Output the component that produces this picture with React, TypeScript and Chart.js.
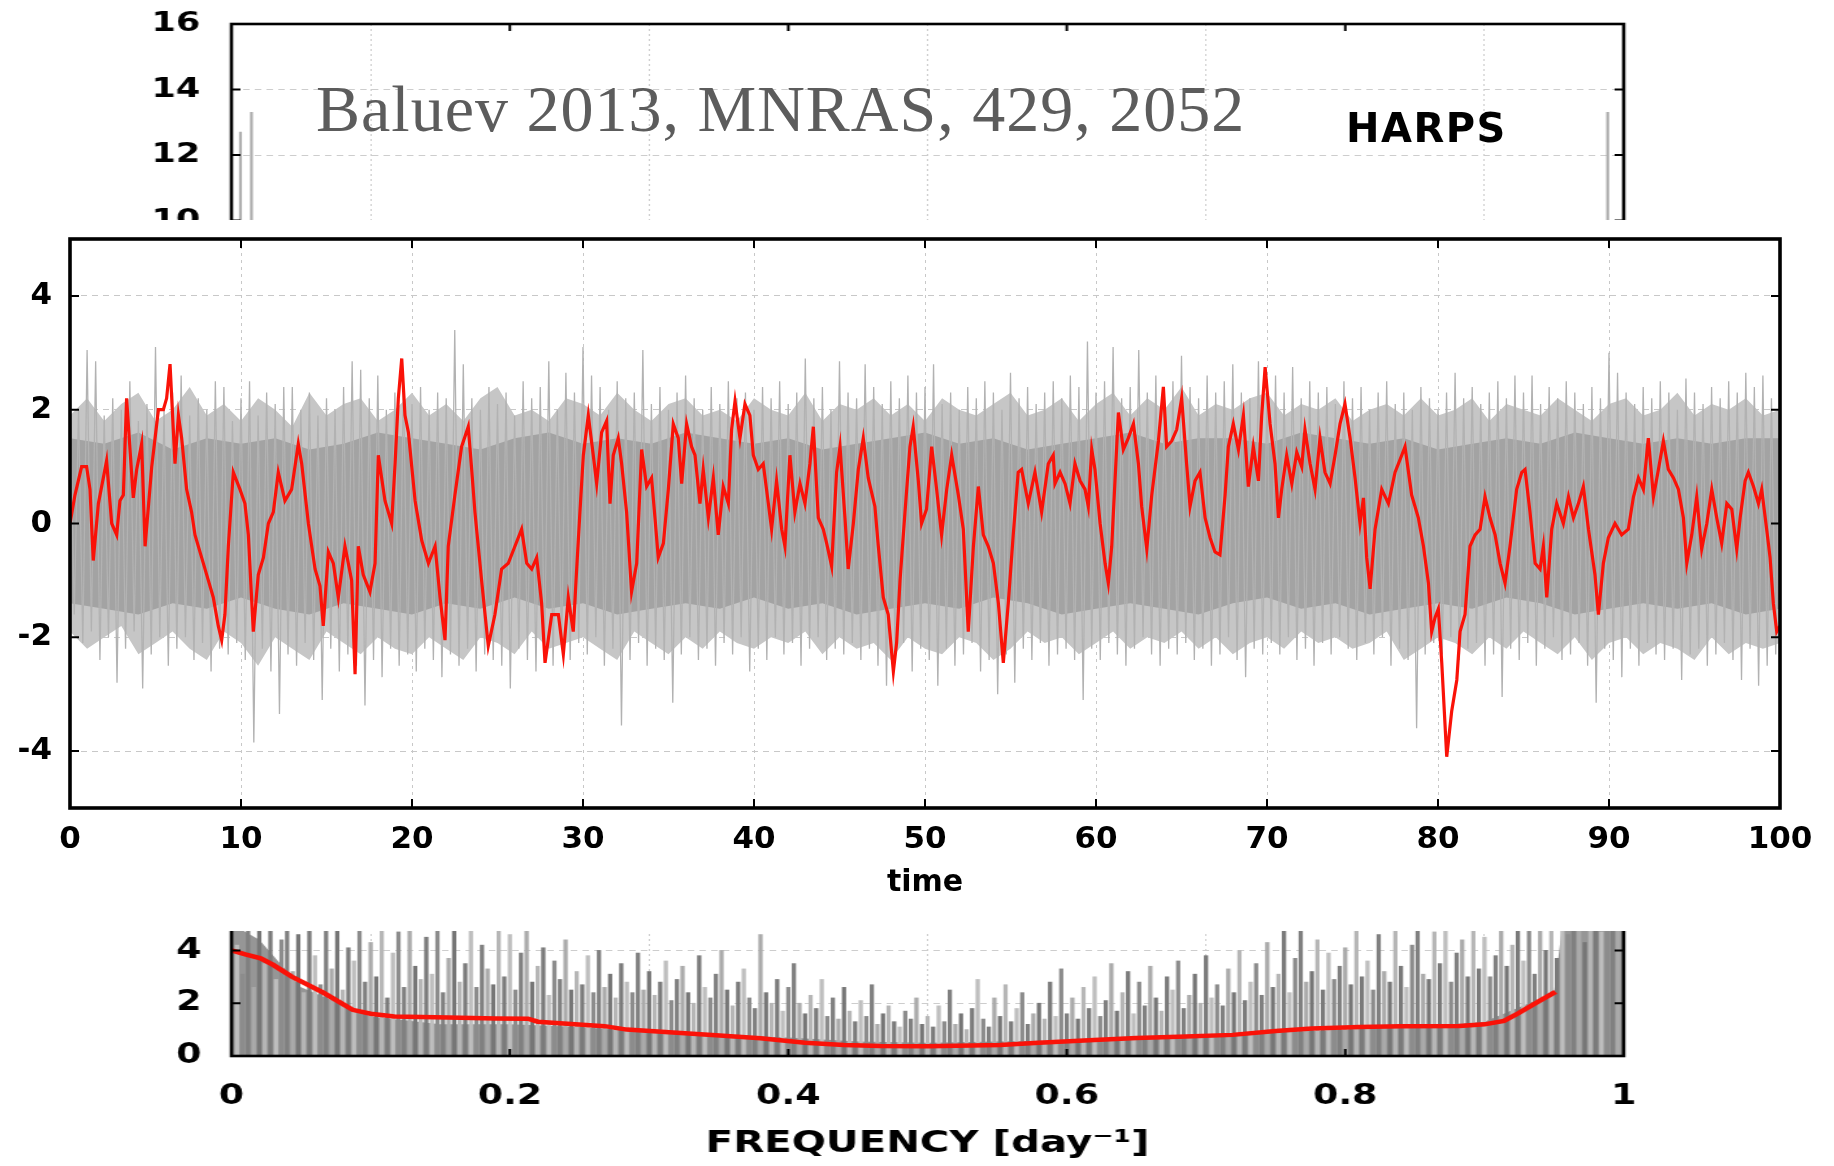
import { useEffect, useRef } from 'react';
import { Chart, registerables } from 'chart.js';

Chart.register(...registerables);

const SANS = '"DejaVu Sans", "Liberation Sans", sans-serif';
const RED = 'rgb(250,18,8)';

// ---------- top panel (partly hidden) ----------
const topYTicks = [10, 12, 14, 16];
const topXTicks = [0, 0.2, 0.4, 0.6, 0.8, 1];
const topSpikeFreq = [0.0065, 0.0144, 0.9885];
const topSpikePower = [12.7, 13.3, 13.3];

// ---------- middle panel: time series ----------
const midXTicks = [0, 10, 20, 30, 40, 50, 60, 70, 80, 90, 100];
const midYTicks = [-4, -2, 0, 2, 4];

// smoothed (red) trace, [time, value]
const redTrace: [number, number][] = [
  [0, 0], [0.29, 0.5], [0.68, 1.0], [0.97, 1.0], [1.17, 0.6], [1.36, -0.65], [1.66, 0.35], [2.14, 1.1], [2.44, 0.0], [2.73, -0.2],
  [2.92, 0.4], [3.12, 0.5], [3.31, 2.2], [3.7, 0.45], [3.9, 0.95], [4.19, 1.4], [4.39, -0.4], [4.78, 1.0], [5.17, 2.0], [5.46, 2.0],
  [5.65, 2.2], [5.85, 2.8], [6.14, 1.05], [6.34, 1.9], [6.53, 1.5], [6.82, 0.6], [7.11, 0.2], [7.31, -0.2], [7.7, -0.6], [8.09, -1.0],
  [8.38, -1.3], [8.67, -1.8], [8.87, -2.05], [9.06, -1.6], [9.26, -0.4], [9.55, 0.9], [9.94, 0.6], [10.23, 0.35], [10.43, -0.2], [10.72, -1.9],
  [11.01, -0.9], [11.31, -0.6], [11.6, 0.0], [11.89, 0.2], [12.18, 0.9], [12.57, 0.4], [12.96, 0.6], [13.35, 1.4], [13.55, 1.05], [13.94, 0.0],
  [14.33, -0.8], [14.62, -1.1], [14.81, -1.8], [15.11, -0.5], [15.4, -0.7], [15.69, -1.3], [16.08, -0.4], [16.47, -1.0], [16.67, -2.65], [16.86, -0.4],
  [17.15, -0.9], [17.54, -1.2], [17.84, -0.7], [18.03, 1.2], [18.42, 0.4], [18.81, 0.0], [19.01, 1.05], [19.2, 2.2], [19.4, 2.9], [19.59, 1.9],
  [19.79, 1.6], [20.18, 0.4], [20.57, -0.3], [20.96, -0.7], [21.35, -0.4], [21.64, -1.3], [21.93, -2.05], [22.12, -0.4], [22.51, 0.5], [22.9, 1.35],
  [23.29, 1.7], [23.49, 0.95], [23.68, 0.2], [24.07, -1.0], [24.46, -2.15], [24.85, -1.6], [25.24, -0.8], [25.63, -0.7], [26.02, -0.4], [26.41, -0.1],
  [26.71, -0.7], [27.0, -0.8], [27.29, -0.6], [27.58, -1.4], [27.78, -2.45], [28.17, -1.6], [28.56, -1.6], [28.85, -2.3], [29.14, -1.3], [29.43, -1.9],
  [29.63, -0.8], [29.82, 0.2], [30.02, 1.2], [30.31, 1.9], [30.6, 1.2], [30.8, 0.7], [31.09, 1.6], [31.38, 1.8], [31.58, 0.35], [31.77, 1.2],
  [32.06, 1.5], [32.26, 1.05], [32.55, 0.2], [32.84, -1.2], [33.14, -0.7], [33.43, 1.3], [33.72, 0.65], [34.01, 0.8], [34.21, 0.1], [34.4, -0.6],
  [34.7, -0.35], [34.99, 0.6], [35.28, 1.75], [35.57, 1.5], [35.77, 0.7], [36.06, 1.75], [36.35, 1.35], [36.55, 1.2], [36.84, 0.35], [37.03, 0.95],
  [37.33, 0.1], [37.62, 0.8], [37.91, -0.2], [38.2, 0.65], [38.5, 0.35], [38.69, 1.65], [38.89, 2.15], [39.18, 1.5], [39.47, 2.1], [39.76, 1.9],
  [39.96, 1.2], [40.25, 0.95], [40.54, 1.05], [40.84, 0.35], [41.03, -0.1], [41.32, 0.75], [41.62, -0.1], [41.81, -0.4], [42.1, 1.2], [42.39, 0.2],
  [42.69, 0.7], [42.98, 0.35], [43.27, 1.05], [43.47, 1.7], [43.76, 0.1], [44.05, -0.1], [44.25, -0.35], [44.54, -0.75], [44.83, 0.9], [45.03, 1.35],
  [45.32, 0.1], [45.51, -0.8], [45.81, 0.0], [46.1, 0.95], [46.39, 1.5], [46.68, 0.8], [47.07, 0.3], [47.27, -0.4], [47.56, -1.3], [47.85, -1.6],
  [48.15, -2.6], [48.34, -2.1], [48.54, -1.0], [48.83, 0.2], [49.12, 1.35], [49.31, 1.7], [49.61, 0.75], [49.8, 0.0], [50.09, 0.25], [50.39, 1.35],
  [50.68, 0.6], [50.97, -0.2], [51.27, 0.6], [51.56, 1.2], [51.95, 0.5], [52.24, -0.1], [52.53, -1.9], [52.83, -0.4], [53.12, 0.65], [53.41, -0.2],
  [53.7, -0.4], [54.0, -0.7], [54.29, -1.4], [54.58, -2.45], [54.87, -1.4], [55.16, -0.2], [55.45, 0.9], [55.65, 0.95], [56.04, 0.35], [56.43, 0.9],
  [56.82, 0.2], [57.21, 1.05], [57.5, 1.2], [57.6, 0.7], [57.9, 0.9], [58.19, 0.7], [58.48, 0.35], [58.77, 1.05], [59.07, 0.75], [59.36, 0.6],
  [59.55, 0.3], [59.75, 1.3], [59.94, 0.95], [60.24, 0.0], [60.53, -0.7], [60.72, -1.05], [60.92, -0.4], [61.11, 0.75], [61.31, 1.95], [61.6, 1.3],
  [61.89, 1.5], [62.19, 1.75], [62.48, 1.05], [62.67, 0.3], [62.97, -0.45], [63.26, 0.5], [63.65, 1.45], [63.94, 2.4], [64.13, 1.35], [64.43, 1.45],
  [64.72, 1.65], [65.01, 2.2], [65.3, 1.05], [65.5, 0.3], [65.79, 0.75], [66.08, 0.9], [66.38, 0.1], [66.67, -0.25], [66.96, -0.5], [67.25, -0.55],
  [67.55, 0.5], [67.74, 1.35], [68.03, 1.75], [68.33, 1.3], [68.62, 1.9], [68.91, 0.65], [69.2, 1.35], [69.5, 0.75], [69.69, 1.9], [69.89, 2.75],
  [70.18, 1.75], [70.47, 1.05], [70.67, 0.1], [70.86, 0.6], [71.15, 1.2], [71.45, 0.7], [71.74, 1.25], [72.03, 1.0], [72.22, 1.65], [72.52, 1.05],
  [72.81, 0.6], [73.1, 1.5], [73.39, 0.9], [73.69, 0.7], [73.98, 1.2], [74.27, 1.75], [74.56, 2.1], [74.86, 1.5], [75.15, 0.8], [75.44, 0.0],
  [75.64, 0.45], [75.83, -0.6], [76.03, -1.15], [76.32, -0.1], [76.71, 0.6], [77.1, 0.35], [77.49, 0.9], [77.88, 1.2], [78.07, 1.35], [78.46, 0.5],
  [78.85, 0.1], [79.15, -0.4], [79.44, -1.05], [79.63, -1.9], [79.83, -1.65], [80.02, -1.5], [80.22, -2.45], [80.51, -4.1], [80.8, -3.3], [81.1, -2.75],
  [81.29, -1.9], [81.58, -1.6], [81.87, -0.4], [82.17, -0.2], [82.46, -0.1], [82.75, 0.47], [83.04, 0.1], [83.34, -0.2], [83.63, -0.7], [83.92, -1.05],
  [84.21, -0.4], [84.6, 0.6], [84.9, 0.9], [85.09, 0.95], [85.38, 0.2], [85.68, -0.7], [85.97, -0.8], [86.16, -0.4], [86.36, -1.3], [86.65, -0.1],
  [86.94, 0.35], [87.33, 0.0], [87.63, 0.47], [87.92, 0.1], [88.21, 0.35], [88.5, 0.65], [88.8, -0.1], [89.18, -0.9], [89.38, -1.6], [89.67, -0.7],
  [89.96, -0.25], [90.35, 0.0], [90.74, -0.2], [91.13, -0.1], [91.43, 0.47], [91.72, 0.8], [92.01, 0.6], [92.3, 1.5], [92.6, 0.47], [92.89, 0.95],
  [93.18, 1.45], [93.47, 0.95], [93.77, 0.8], [94.06, 0.6], [94.35, 0.1], [94.55, -0.7], [94.84, -0.2], [95.13, 0.47], [95.42, -0.45], [95.72, 0.0],
  [96.01, 0.6], [96.3, 0.1], [96.59, -0.35], [96.89, 0.35], [97.18, 0.25], [97.47, -0.45], [97.67, 0.1], [97.96, 0.75], [98.15, 0.9], [98.45, 0.65],
  [98.74, 0.35], [98.93, 0.6], [99.22, -0.1], [99.42, -0.6], [99.61, -1.4], [99.81, -1.9], [100, -1.8],
];

// raw (grey) series: spike tops at t = 0, 0.5, ..., 100
const grayTops = [
  2.3, 2.0, 3.05, 2.85, 1.9, 2.2, 2.0, 2.5, 1.8, 2.1,
  3.1, 2.0, 2.3, 2.6, 1.9, 2.2, 2.0, 2.5, 2.4, 1.8,
  2.2, 2.5, 1.9, 2.3, 2.1, 2.4, 2.4, 2.0, 2.3, 1.9,
  2.2, 2.0, 2.4, 2.85, 2.7, 2.2, 2.6, 2.0, 2.3, 2.5,
  2.1, 2.4, 2.0, 2.3, 2.2, 3.4, 2.8, 2.2, 2.0, 2.4,
  2.1, 2.3, 1.9, 2.5, 2.2, 2.4, 2.85, 2.0, 2.65, 2.3,
  3.1, 2.6, 2.4, 2.0, 2.5, 2.2, 2.3, 3.05, 2.1, 2.4,
  2.0, 2.3, 2.6, 2.2, 2.0, 2.4, 2.1, 2.5, 2.2, 2.3,
  2.0, 2.4, 2.2, 2.5, 2.1, 2.3, 2.9, 2.2, 2.4, 2.0,
  2.85, 2.3, 2.2, 2.8, 2.4, 2.1, 2.5, 2.2, 2.6, 2.3,
  2.4, 2.8, 2.1, 2.3, 2.0, 2.4, 2.2, 2.5, 2.3, 2.0,
  2.65, 2.2, 2.4, 2.1, 2.3, 2.5, 2.2, 2.6, 2.4, 3.2,
  2.3, 2.5, 3.1, 2.2, 2.4, 3.05, 2.3, 2.6, 2.2, 2.5,
  2.95, 2.4, 2.2, 2.6, 2.3, 2.5, 2.8, 2.3, 2.2, 2.85,
  2.4, 2.6, 2.3, 2.75, 2.2, 2.5, 2.3, 2.4, 2.1, 2.5,
  2.2, 2.4, 2.0, 2.3, 2.5, 2.1, 2.3, 2.0, 2.4, 2.2,
  2.0, 2.3, 2.65, 2.2, 2.4, 2.1, 2.3, 2.5, 2.2, 2.6,
  2.3, 2.6, 2.1, 2.4, 2.2, 2.5, 2.3, 2.1, 2.4, 2.2,
  3.0, 2.65, 2.3, 2.1, 2.4, 2.2, 2.5, 2.3, 2.0, 2.55,
  2.3, 2.1, 2.4, 2.2, 2.5, 2.3, 2.65, 2.4, 2.6, 2.2,
  2.0,
];
// spike bottoms at t = 0.25, 0.75, ..., 99.75
const grayBottoms = [
  -1.6, -2.1, -1.9, -2.4, -2.0, -2.8, -2.2, -1.9, -2.9, -2.3,
  -2.0, -2.5, -2.2, -2.0, -2.4, -2.1, -2.6, -2.2, -2.3, -2.1,
  -2.4, -3.85, -2.2, -2.6, -3.35, -2.3, -2.5, -2.1, -2.4, -3.1,
  -2.2, -2.6, -2.3, -2.5, -3.2, -2.4, -2.7, -2.2, -2.5, -2.3,
  -2.6, -2.2, -2.4, -2.7, -2.3, -2.5, -2.2, -2.6, -2.3, -2.4,
  -2.5, -2.9, -2.2, -2.4, -2.6, -2.3, -2.5, -2.2, -2.4, -2.1,
  -2.3, -2.0, -2.5, -2.2, -3.55, -2.4, -2.1, -2.5, -2.2, -2.4,
  -3.15, -2.3, -2.0, -2.4, -2.2, -2.5, -2.1, -2.3, -2.0, -2.6,
  -2.2, -2.4, -2.0, -2.3, -2.1, -2.5, -2.2, -2.0, -2.4, -2.2,
  -2.3, -2.1, -2.4, -2.2, -2.5, -2.85, -2.3, -2.1, -2.6, -2.2,
  -2.4, -2.85, -2.2, -2.5, -2.3, -2.1, -2.6, -2.4, -3.0, -2.3,
  -2.8, -2.2, -2.4, -2.1, -2.5, -2.3, -2.2, -2.4, -3.1, -2.2,
  -2.4, -2.1, -2.3, -2.5, -2.2, -2.0, -2.3, -2.5, -2.2, -2.3,
  -2.1, -2.4, -2.2, -2.5, -2.3, -2.0, -2.4, -2.7, -2.2, -2.3,
  -2.1, -2.3, -2.0, -2.4, -2.2, -2.5, -2.1, -2.3, -2.0, -2.2,
  -2.4, -2.1, -2.3, -2.0, -2.5, -2.2, -2.4, -3.6, -2.3, -2.1,
  -2.3, -2.0, -2.4, -2.2, -2.1, -2.5, -2.3, -3.05, -2.2, -2.4,
  -2.1, -2.5, -2.2, -2.0, -2.4, -2.3, -2.1, -2.5, -3.15, -2.2,
  -2.4, -2.7, -2.2, -2.5, -2.1, -2.3, -2.4, -2.2, -2.75, -2.3,
  -2.2, -2.5, -2.3, -2.1, -2.4, -2.75, -2.2, -2.85, -2.5, -2.3,
];
// dense core of the grey band, at t = 0, 2, ..., 100
const grayCoreHigh = [
  1.5, 1.4, 1.6, 1.3, 1.5, 1.4, 1.5, 1.3, 1.4, 1.6,
  1.5, 1.4, 1.3, 1.5, 1.6, 1.4, 1.5, 1.4, 1.6, 1.5,
  1.4, 1.5, 1.3, 1.4, 1.5, 1.6, 1.4, 1.5, 1.3, 1.4,
  1.5, 1.6, 1.4, 1.5, 1.5, 1.4, 1.6, 1.5, 1.4, 1.5,
  1.3, 1.4, 1.5, 1.4, 1.6, 1.5, 1.4, 1.5, 1.4, 1.5,
  1.5,
];
const grayCoreLow = [
  -1.4, -1.5, -1.6, -1.4, -1.5, -1.3, -1.5, -1.6, -1.4, -1.5,
  -1.6, -1.4, -1.5, -1.3, -1.5, -1.4, -1.6, -1.5, -1.4, -1.5,
  -1.3, -1.5, -1.4, -1.6, -1.5, -1.4, -1.5, -1.3, -1.4, -1.6,
  -1.5, -1.4, -1.5, -1.6, -1.4, -1.3, -1.5, -1.4, -1.6, -1.5,
  -1.4, -1.5, -1.3, -1.4, -1.6, -1.5, -1.4, -1.5, -1.4, -1.6,
  -1.5,
];
// lighter fringe of the grey band, at t = 0, 1, ..., 100
const grayHaloHigh = [
  1.9, 2.2, 1.8, 2.1, 2.3, 1.8, 2.0, 2.4, 1.9, 2.1,
  1.8, 2.2, 2.0, 1.7, 2.3, 1.9, 2.1, 2.2, 1.8, 2.0,
  2.3, 1.9, 2.1, 1.8, 2.2, 2.4, 1.9, 2.0, 1.8, 2.2,
  2.1, 1.9, 2.3, 2.0, 1.8, 2.1, 2.2, 1.9, 2.0, 1.8,
  2.2, 2.0, 1.9, 2.3, 1.8, 2.1, 2.0, 2.2, 1.9, 2.1,
  1.8, 2.2, 2.0, 1.9, 2.1, 2.3, 1.9, 2.0, 2.2, 1.8,
  2.1, 2.3, 1.9, 2.2, 2.0, 2.4, 1.9, 2.1, 2.0, 2.2,
  2.3, 1.9, 2.1, 2.0, 2.2, 1.8, 2.0, 2.1, 1.9, 2.2,
  1.9, 2.0, 2.2, 1.8, 2.1, 2.0, 1.9, 2.2, 2.0, 1.8,
  2.1, 2.2, 1.9, 2.0, 2.3, 1.9, 2.1, 2.0, 2.2, 1.9,
  2.0,
];
const grayHaloLow = [
  -1.9, -2.2, -2.0, -1.8, -2.3, -2.1, -1.9, -2.2, -2.4, -1.9,
  -2.1, -2.5, -2.0, -2.2, -2.4, -1.9, -2.1, -2.3, -2.0, -2.2,
  -2.3, -2.0, -2.2, -2.4, -2.0, -2.1, -2.3, -1.9, -2.2, -2.1,
  -2.0, -2.2, -2.4, -1.9, -2.1, -2.3, -2.0, -2.2, -1.9, -2.1,
  -2.2, -2.0, -2.1, -1.9, -2.3, -2.0, -2.2, -2.1, -2.4, -2.0,
  -2.2, -2.3, -2.0, -2.1, -2.4, -2.2, -1.9, -2.1, -2.0, -2.3,
  -2.1, -1.9, -2.2, -2.0, -2.1, -1.9, -2.2, -2.0, -2.3, -2.1,
  -2.0, -2.2, -1.9, -2.1, -2.0, -2.2, -2.1, -1.9, -2.4, -2.2,
  -2.0, -2.1, -2.3, -2.0, -2.2, -1.9, -2.1, -2.3, -2.0, -2.4,
  -2.1, -2.0, -2.3, -2.1, -2.2, -2.4, -2.0, -2.3, -2.1, -2.2,
  -2.1,
];

// ---------- bottom panel: periodogram ----------
const freqTicks = [0, 0.2, 0.4, 0.6, 0.8, 1];
const powerTicks = [0, 2, 4];
// spike heights at f = 0, 0.004, ..., 1.0
const periodogram = [
  5.0, 4.2, 3.1, 5.0, 2.6, 4.8, 3.5, 5.0, 2.9, 4.4, 5.0, 3.2, 4.6, 2.4, 5.0, 3.8, 2.7, 4.9, 3.3, 5.0, 2.5, 4.1, 3.6, 5.0, 2.8,
  4.3, 3.0, 5.0, 2.2, 3.9, 4.7, 2.6, 5.0, 3.4, 2.9, 4.5, 3.1, 5.0, 2.4, 3.7, 4.9, 2.8, 3.5, 5.0, 2.6, 4.2, 3.3, 2.7, 5.0, 3.0,
  4.6, 2.5, 3.9, 5.0, 2.8, 3.4, 4.1, 2.3, 3.6, 2.9, 4.4, 2.5, 3.2, 2.7, 3.8, 2.4, 4.0, 2.6, 3.1, 2.2, 3.5, 2.8, 2.4, 3.9, 2.5,
  3.2, 2.3, 2.8, 3.6, 2.1, 2.9, 3.4, 2.4, 2.0, 3.8, 2.6, 2.2, 3.1, 4.0, 2.5, 1.9, 2.8, 3.3, 2.2, 1.8, 4.6, 2.4, 2.0, 2.9, 1.7,
  2.6, 3.5, 2.0, 1.6, 2.3, 1.8, 2.9, 1.5, 2.2, 1.4, 2.6, 1.7, 1.3, 2.1, 1.5, 2.7, 1.2, 1.6, 1.9, 1.3, 1.1, 1.7, 1.4, 2.2, 1.2,
  1.5, 1.1, 1.9, 1.3, 2.5, 1.2, 1.6, 1.0, 1.8, 2.9, 1.4, 1.1, 2.2, 1.5, 2.7, 1.3, 1.8, 2.4, 1.2, 1.6, 2.0, 1.4, 2.8, 1.5, 3.3,
  1.6, 2.2, 1.4, 2.6, 1.8, 3.0, 1.5, 2.1, 3.5, 1.7, 2.4, 3.2, 1.6, 2.8, 1.9, 3.4, 2.2, 1.7, 3.0, 2.5, 3.6, 1.8, 2.3, 3.1, 2.0,
  3.8, 2.2, 2.7, 1.9, 3.3, 2.4, 4.0, 2.1, 2.8, 3.5, 2.3, 4.3, 2.6, 3.1, 5.0, 2.4, 3.7, 5.0, 2.8, 3.2, 4.4, 2.5, 3.9, 2.9, 3.4,
  4.1, 2.7, 5.0, 3.0, 3.6, 2.5, 4.6, 3.2, 2.8, 5.0, 3.4, 2.6, 4.2, 5.0, 3.1, 2.9, 4.7, 3.5, 5.0, 2.8, 3.9, 4.4, 3.0, 5.0, 3.3,
  4.5, 3.0, 3.8, 5.0, 3.4, 4.2, 5.0, 3.6, 4.8, 3.1, 5.0, 4.0, 5.0, 3.7, 5.0, 4.6, 5.0, 5.0, 4.3, 5.0, 5.0, 4.7, 5.0, 5.0, 4.9,
  5.0,
];
// solid lower part of the periodogram, [freq, power]
const periodogramCore: [number, number][] = [
  [0, 5.0], [0.02, 4.4], [0.05, 2.6], [0.1, 1.5], [0.15, 1.2], [0.2, 1.2], [0.25, 1.1], [0.3, 0.9], [0.35, 0.8], [0.4, 0.7],
  [0.45, 0.55], [0.5, 0.5], [0.55, 0.55], [0.6, 0.6], [0.65, 0.7], [0.7, 0.8], [0.75, 0.9], [0.8, 1.0], [0.85, 1.1], [0.9, 1.3],
  [0.95, 2.4], [0.956, 5.0], [1.0, 5.0],
];
// smoothed (red) periodogram, [freq, power]
const smoothPower: [number, number][] = [
  [0, 4.0], [0.01, 3.85], [0.021, 3.7], [0.03, 3.45], [0.0435, 3.0], [0.066, 2.4], [0.087, 1.75], [0.1, 1.6], [0.117, 1.5], [0.156, 1.46],
  [0.19, 1.42], [0.213, 1.41], [0.22, 1.3], [0.268, 1.13], [0.284, 1.0], [0.32, 0.88], [0.348, 0.79], [0.38, 0.67], [0.412, 0.5], [0.44, 0.42],
  [0.466, 0.38], [0.5, 0.37], [0.552, 0.42], [0.58, 0.5], [0.616, 0.6], [0.65, 0.68], [0.68, 0.73], [0.719, 0.8], [0.75, 0.95], [0.776, 1.04],
  [0.81, 1.1], [0.84, 1.13], [0.882, 1.14], [0.9, 1.2], [0.914, 1.33], [0.924, 1.61], [0.94, 2.1], [0.951, 2.43],
];

// ---------- helpers ----------
function framePlugin(xTicks: number[], yTicks: number[], lw: number, tl: number) {
  return {
    id: 'frame',
    afterDatasetsDraw(chart: any) {
      const { ctx, chartArea: a, scales } = chart;
      ctx.save();
      ctx.strokeStyle = '#000';
      ctx.setLineDash([]);
      ctx.lineWidth = 2;
      ctx.beginPath();
      for (const v of xTicks) {
        const x = scales.x.getPixelForValue(v);
        if (x < a.left + 3 || x > a.right - 3) continue;
        ctx.moveTo(x, a.bottom);
        ctx.lineTo(x, a.bottom - tl);
        ctx.moveTo(x, a.top);
        ctx.lineTo(x, a.top + tl);
      }
      for (const v of yTicks) {
        const y = scales.y.getPixelForValue(v);
        if (y < a.top + 3 || y > a.bottom - 3) continue;
        ctx.moveTo(a.left, y);
        ctx.lineTo(a.left + tl, y);
        ctx.moveTo(a.right, y);
        ctx.lineTo(a.right - tl, y);
      }
      ctx.stroke();
      ctx.lineWidth = lw;
      ctx.strokeRect(a.left, a.top, a.right - a.left, a.bottom - a.top);
      ctx.restore();
    },
  };
}

const setTicks = (arr: number[]) => (s: any) => {
  s.ticks = arr.map((v) => ({ value: v }));
};
// fixed y-axis width, and no extra label margin above/below the plot area
const fixY = (w: number) => (s: any) => {
  s.width = w;
  s.paddingTop = 0;
  s.paddingBottom = 0;
};
const fixX = (h: number) => (s: any) => {
  s.height = h;
};

function ChartCanvas({ make, width, height }: { make: () => any; width: number; height: number }) {
  const ref = useRef<HTMLCanvasElement | null>(null);
  useEffect(() => {
    const chart = new Chart(ref.current as HTMLCanvasElement, make());
    return () => chart.destroy();
  }, []);
  return <canvas ref={ref} width={width} height={height} style={{ display: 'block', width, height }} />;
}

const baseOptions = {
  responsive: false,
  animation: false,
  devicePixelRatio: 1,
  events: [],
  plugins: { legend: { display: false }, tooltip: { enabled: false } },
};

const clear = 'rgba(0,0,0,0)';

// ---------- chart configs ----------
function makeTop() {
  return {
    type: 'bar',
    data: {
      datasets: [
        {
          data: topSpikeFreq.map((f, i) => ({ x: f, y: topSpikePower[i] })),
          backgroundColor: 'rgb(175,175,175)',
          barThickness: 1.6,
          borderWidth: 0,
        },
      ],
    },
    options: {
      ...baseOptions,
      layout: { padding: { top: 24, right: 162, left: 0, bottom: 0 } },
      scales: {
        x: {
          type: 'linear',
          min: 0,
          max: 1,
          offset: false,
          afterBuildTicks: setTicks(topXTicks),
          afterFit: fixX(20),
          ticks: { display: false },
          grid: { color: 'rgb(205,205,205)', lineWidth: 1, drawTicks: false },
          border: { display: false, dash: [2, 3] },
        },
        y: {
          min: 8,
          max: 16,
          afterBuildTicks: setTicks(topYTicks),
          afterFit: fixY(178),
          ticks: { color: '#000', font: { family: SANS, size: 27, weight: 'bold' }, padding: 24, callback: (v: any) => String(v) },
          grid: { color: 'rgb(205,205,205)', lineWidth: 1, drawTicks: false },
          border: { display: false, dash: [5, 4] },
        },
      },
    },
    plugins: [framePlugin(topXTicks, topYTicks, 2.6, 7)],
  };
}

function makeMiddle() {
  const zig: { x: number; y: number }[] = [];
  grayTops.forEach((v, i) => {
    zig.push({ x: i * 0.5, y: v });
    if (i < grayBottoms.length) zig.push({ x: i * 0.5 + 0.25, y: grayBottoms[i] });
  });
  return {
    type: 'line',
    data: {
      datasets: [
        { data: redTrace.map(([x, y]) => ({ x, y })), borderColor: RED, borderWidth: 3.2, pointRadius: 0, tension: 0 },
        { data: zig, borderColor: 'rgb(178,178,178)', borderWidth: 1.3, pointRadius: 0, tension: 0 },
        {
          data: grayCoreHigh.map((y, i) => ({ x: i * 2, y })),
          borderColor: clear,
          borderWidth: 1,
          pointRadius: 0,
          fill: '+1',
          backgroundColor: 'rgb(163,163,163)',
        },
        { data: grayCoreLow.map((y, i) => ({ x: i * 2, y })), borderColor: clear, borderWidth: 1, pointRadius: 0 },
        {
          data: grayHaloHigh.map((y, i) => ({ x: i, y })),
          borderColor: clear,
          borderWidth: 1,
          pointRadius: 0,
          fill: '+1',
          backgroundColor: 'rgb(198,198,198)',
        },
        { data: grayHaloLow.map((y, i) => ({ x: i, y })), borderColor: clear, borderWidth: 1, pointRadius: 0 },
      ],
    },
    options: {
      ...baseOptions,
      layout: { padding: { top: 19, right: 54, left: 0, bottom: 0 } },
      scales: {
        x: {
          type: 'linear',
          min: 0,
          max: 100,
          afterBuildTicks: setTicks(midXTicks),
          afterFit: fixX(123),
          ticks: {
            color: '#000',
            font: { family: SANS, size: 31, weight: 'bold' },
            padding: 13,
            maxRotation: 0,
            autoSkip: false,
            callback: (v: any) => String(v),
          },
          grid: { color: 'rgb(200,200,200)', lineWidth: 1, drawTicks: false },
          border: { display: false, dash: [3, 4] },
          title: {
            display: true,
            text: 'time',
            color: '#000',
            font: { family: SANS, size: 30, weight: 'bold' },
            padding: { top: 0, bottom: 30 },
          },
        },
        y: {
          min: -5,
          max: 5,
          afterBuildTicks: setTicks(midYTicks),
          afterFit: fixY(70),
          ticks: { color: '#000', font: { family: SANS, size: 31, weight: 'bold' }, padding: 18, callback: (v: any) => String(v) },
          grid: { color: 'rgb(200,200,200)', lineWidth: 1, drawTicks: false },
          border: { display: false, dash: [6, 5] },
        },
      },
    },
    plugins: [framePlugin(midXTicks, midYTicks, 3.6, 9)],
  };
}

const barTones = [
  'rgb(122,122,122)', 'rgb(190,190,190)', 'rgb(140,140,140)', 'rgb(128,128,128)',
  'rgb(170,170,170)', 'rgb(118,118,118)', 'rgb(182,182,182)',
];

function makeBottom() {
  return {
    type: 'line',
    data: {
      datasets: [
        { data: smoothPower.map(([x, y]) => ({ x, y })), borderColor: RED, borderWidth: 4.5, pointRadius: 0, tension: 0 },
        {
          type: 'bar',
          data: periodogram.map((y, i) => ({ x: i * 0.004, y })),
          barThickness: 2.6,
          borderWidth: 0,
          backgroundColor: (c: any) => barTones[c.dataIndex % barTones.length],
        },
        {
          data: periodogramCore.map(([x, y]) => ({ x, y })),
          borderColor: clear,
          borderWidth: 1,
          pointRadius: 0,
          fill: 'origin',
          backgroundColor: 'rgb(150,150,150)',
        },
      ],
    },
    options: {
      ...baseOptions,
      layout: { padding: { top: 24, right: 162, left: 0, bottom: 0 } },
      scales: {
        x: {
          type: 'linear',
          min: 0,
          max: 1,
          offset: false,
          afterBuildTicks: setTicks(freqTicks),
          afterFit: fixX(110),
          ticks: {
            color: '#000',
            font: { family: SANS, size: 28, weight: 'bold' },
            padding: 24,
            maxRotation: 0,
            autoSkip: false,
            callback: (v: any) => String(v),
          },
          grid: { color: 'rgb(205,205,205)', lineWidth: 1, drawTicks: false },
          border: { display: false, dash: [2, 3] },
          title: {
            display: true,
            text: 'FREQUENCY [day\u207B\u00B9]',
            color: '#000',
            font: { family: SANS, size: 31, weight: 'bold' },
            padding: { top: 0, bottom: 3 },
          },
        },
        y: {
          min: 0,
          max: 5,
          afterBuildTicks: setTicks(powerTicks),
          afterFit: fixY(178),
          ticks: { color: '#000', font: { family: SANS, size: 28, weight: 'bold' }, padding: 23, callback: (v: any) => String(v) },
          grid: { color: 'rgb(205,205,205)', lineWidth: 1, drawTicks: false },
          border: { display: false, dash: [5, 4] },
        },
      },
    },
    plugins: [framePlugin(freqTicks, powerTicks, 2.6, 7)],
  };
}

export default function App() {
  return (
    <div style={{ position: 'absolute', left: 0, top: 0, width: 1834, height: 1166, background: '#fff', overflow: 'hidden' }}>
      <div style={{ position: 'absolute', left: 0, top: 0, width: 1411, height: 306, transform: 'scaleX(1.3)', transformOrigin: '0 0', zIndex: 0 }}>
        <ChartCanvas make={makeTop} width={1411} height={306} />
      </div>
      <div
        style={{
          position: 'absolute',
          left: 316,
          top: 76,
          fontFamily: '"Liberation Serif", "DejaVu Serif", serif',
          fontSize: 66,
          lineHeight: 1,
          letterSpacing: 1,
          color: 'rgb(92,92,92)',
          whiteSpace: 'nowrap',
          zIndex: 1,
        }}
      >
        Baluev 2013, MNRAS, 429, 2052
      </div>
      <div
        style={{
          position: 'absolute',
          left: 1346,
          top: 108,
          fontFamily: SANS,
          fontWeight: 700,
          fontSize: 40,
          lineHeight: 1,
          letterSpacing: 1.5,
          color: '#000',
          whiteSpace: 'nowrap',
          zIndex: 1,
        }}
      >
        HARPS
      </div>
      <div style={{ position: 'absolute', left: 0, top: 220, width: 1834, height: 711, background: '#fff', zIndex: 2 }}>
        <ChartCanvas make={makeMiddle} width={1834} height={711} />
      </div>
      <div style={{ position: 'absolute', left: 0, top: 900, width: 1411, height: 266, transform: 'scaleX(1.3)', transformOrigin: '0 0', zIndex: 1 }}>
        <ChartCanvas make={makeBottom} width={1411} height={266} />
      </div>
    </div>
  );
}
